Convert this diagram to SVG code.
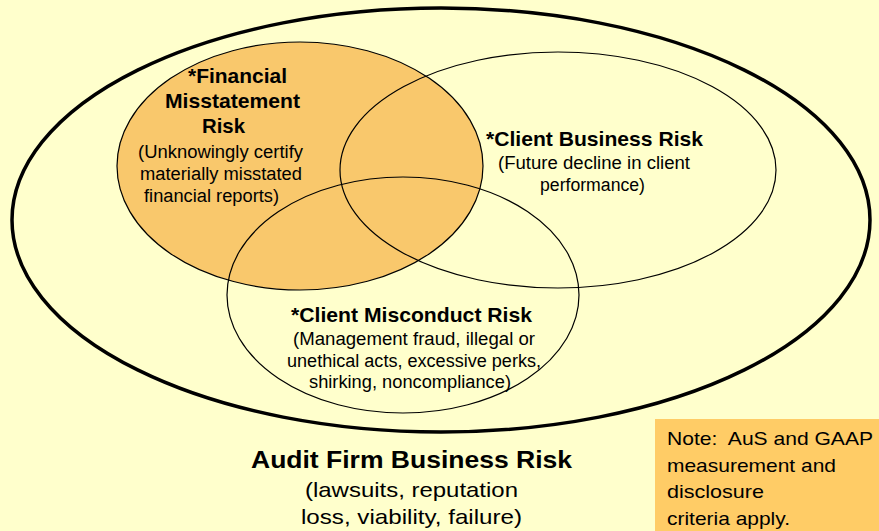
<svg xmlns="http://www.w3.org/2000/svg" width="879" height="531" viewBox="0 0 879 531">
<style>
text{font-family:"Liberation Sans",Arial,sans-serif;fill:#000}
.b{font-weight:bold;text-anchor:middle;font-size:20.5px}
.n{text-anchor:middle;font-size:18px}
.a{text-anchor:middle;font-size:21px}
.t{font-size:19px}
.thin{fill:none;stroke:#000;stroke-width:1.2}
</style>
<rect width="879" height="531" fill="#FFFFCC"/>
<g id="audit-firm">
<ellipse cx="441" cy="220" rx="429" ry="212" fill="none" stroke="#000" stroke-width="3.5"/>
</g>
<g id="financial-misstatement">
<ellipse cx="300" cy="166" rx="183" ry="124" fill="#F9C86C"/>
</g>
<g id="outlines">
<ellipse class="thin" cx="300" cy="166" rx="183" ry="124"/>
<ellipse class="thin" cx="558" cy="170" rx="218" ry="118"/>
<ellipse class="thin" cx="403" cy="295" rx="176" ry="118"/>
</g>
<g id="fm-text">
<text class="b" x="237.5" y="83" textLength="99" lengthAdjust="spacingAndGlyphs">*Financial</text>
<text class="b" x="232.5" y="108" textLength="135" lengthAdjust="spacingAndGlyphs">Misstatement</text>
<text class="b" x="223.5" y="133" textLength="43" lengthAdjust="spacingAndGlyphs">Risk</text>
<text class="n" x="220.5" y="158" textLength="165" lengthAdjust="spacingAndGlyphs">(Unknowingly certify</text>
<text class="n" x="221" y="180" textLength="162" lengthAdjust="spacingAndGlyphs">materially misstated</text>
<text class="n" x="211.5" y="202" textLength="135" lengthAdjust="spacingAndGlyphs">financial reports)</text>
</g>
<g id="client-business">
<text class="b" x="594.5" y="146" textLength="217" lengthAdjust="spacingAndGlyphs">*Client Business Risk</text>
<text class="n" x="594" y="169" textLength="192" lengthAdjust="spacingAndGlyphs">(Future decline in client</text>
<text class="n" x="592.5" y="191" textLength="105" lengthAdjust="spacingAndGlyphs">performance)</text>
</g>
<g id="client-misconduct">
<text class="b" x="411.5" y="322" textLength="241" lengthAdjust="spacingAndGlyphs">*Client Misconduct Risk</text>
<text class="n" x="414" y="345" textLength="242" lengthAdjust="spacingAndGlyphs">(Management fraud, illegal or</text>
<text class="n" x="414" y="367" textLength="254" lengthAdjust="spacingAndGlyphs">unethical acts, excessive perks,</text>
<text class="n" x="410" y="388" textLength="202" lengthAdjust="spacingAndGlyphs">shirking, noncompliance)</text>
</g>
<g id="audit-text">
<text class="b" x="411.5" y="468" style="font-size:24.5px" textLength="321" lengthAdjust="spacingAndGlyphs">Audit Firm Business Risk</text>
<text class="a" x="411.5" y="497" textLength="213" lengthAdjust="spacingAndGlyphs">(lawsuits, reputation</text>
<text class="a" x="411.5" y="524" textLength="221" lengthAdjust="spacingAndGlyphs">loss, viability, failure)</text>
</g>
<g id="note">
<rect x="655" y="419" width="224" height="112" fill="#FFCC66"/>
<text class="t" x="667" y="445" textLength="206" lengthAdjust="spacingAndGlyphs">Note:&#160; AuS and GAAP</text>
<text class="t" x="667" y="472" textLength="169" lengthAdjust="spacingAndGlyphs">measurement and</text>
<text class="t" x="667" y="498" textLength="97" lengthAdjust="spacingAndGlyphs">disclosure</text>
<text class="t" x="667" y="525" textLength="123" lengthAdjust="spacingAndGlyphs">criteria apply.</text>
</g>
</svg>
